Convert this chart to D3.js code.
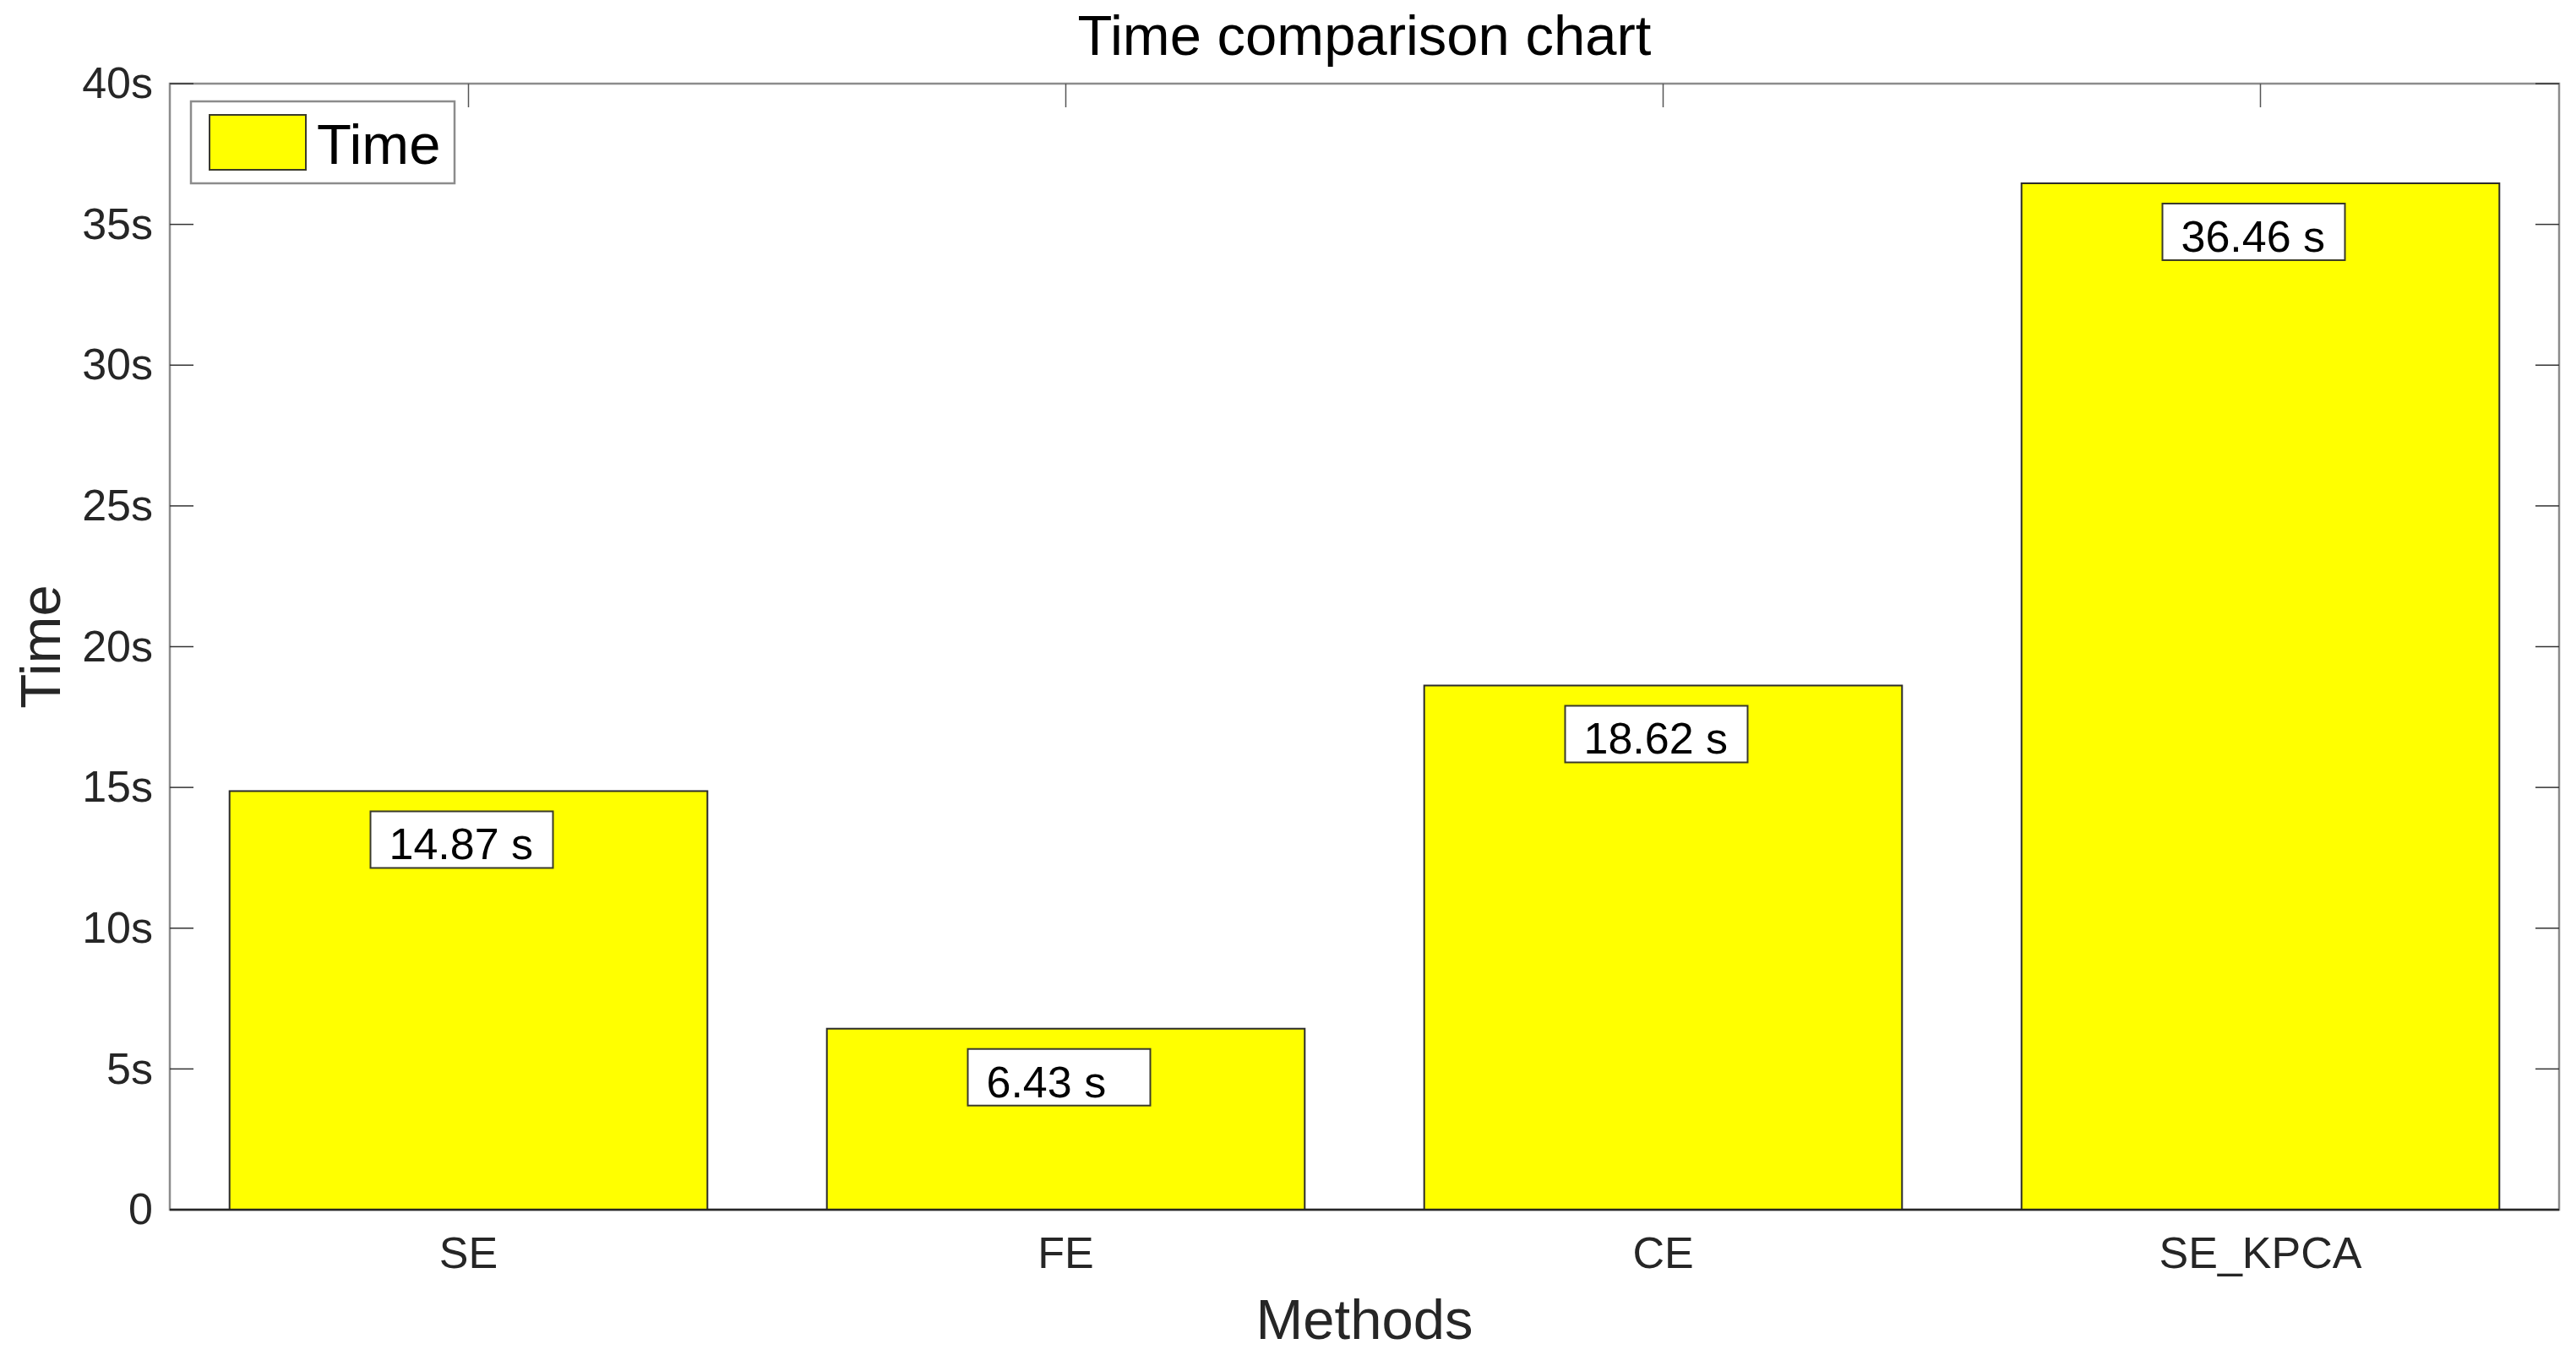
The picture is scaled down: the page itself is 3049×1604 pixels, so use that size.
<!DOCTYPE html>
<html>
<head>
<meta charset="utf-8">
<script src="https://cdn.jsdelivr.net/npm/d3@7"></script>
<style>
  body { margin: 0; background: #fff; }
  text { font-family: "Liberation Sans", Arial, sans-serif; }
</style>
</head>
<body>
<svg id="chart" width="3049" height="1604"></svg>
<script>
// donnees
let methodes = ['SE', 'FE', 'CE', 'SE_KPCA']
let temps = [14.87, 6.43, 18.62, 36.46]
let etiquettes = ['14.87 s', '6.43 s', '18.62 s', '36.46 s']
let ticksY = [0, 5, 10, 15, 20, 25, 30, 35, 40]
let ticksYLabels = ['0', '5s', '10s', '15s', '20s', '25s', '30s', '35s', '40s']

let svg = d3.select('#chart')

// zone du graphique
let gauche = 201, droite = 3029, haut = 99, bas = 1432

let x = d3.scaleBand()
    .domain(methodes)
    .range([gauche, droite])
    .paddingInner(0.2)
    .paddingOuter(0.1)

let xCentre = d => x(d) + x.bandwidth() / 2

let y = d3.scaleLinear()
    .domain([0, 40])
    .range([bas, haut])

// cadre gris
svg.append('rect')
   .attr('x', gauche).attr('y', haut)
   .attr('width', droite - gauche).attr('height', bas - haut)
   .attr('fill', 'none')
   .attr('stroke', '#8c8c8c')
   .attr('stroke-width', 2.5)

// graduations Y (gauche et droite)
let axeY = d3.axisLeft(y).tickValues(ticksY).tickFormat((d, i) => ticksYLabels[i]).tickSize(0).tickPadding(20)
let gY = svg.append('g').attr('transform', `translate(${gauche},0)`).call(axeY)
gY.select('.domain').remove()
gY.selectAll('text')
  .attr('font-size', 52)
  .attr('fill', '#262626')

svg.selectAll('.tickG')
   .data(ticksY)
   .enter()
   .append('line')
   .attr('x1', gauche).attr('x2', gauche + 28)
   .attr('y1', d => y(d)).attr('y2', d => y(d))
   .attr('stroke', '#333').attr('stroke-width', 1.5)

svg.selectAll('.tickD')
   .data(ticksY)
   .enter()
   .append('line')
   .attr('x1', droite - 28).attr('x2', droite)
   .attr('y1', d => y(d)).attr('y2', d => y(d))
   .attr('stroke', '#333').attr('stroke-width', 1.5)

// graduations du haut
svg.selectAll('.tickH')
   .data(methodes)
   .enter()
   .append('line')
   .attr('x1', xCentre).attr('x2', xCentre)
   .attr('y1', haut).attr('y2', haut + 28)
   .attr('stroke', '#555').attr('stroke-width', 1.5)

// barres
svg.selectAll('.barre')
   .data(methodes)
   .enter()
   .append('rect')
   .attr('x', d => x(d))
   .attr('y', (d, i) => y(temps[i]))
   .attr('width', x.bandwidth())
   .attr('height', (d, i) => y(0) - y(temps[i]))
   .attr('fill', '#ffff00')
   .attr('stroke', '#2b2b2b')
   .attr('stroke-width', 2)

// ligne de base
svg.append('line')
   .attr('x1', gauche).attr('x2', droite)
   .attr('y1', bas).attr('y2', bas)
   .attr('stroke', '#262626').attr('stroke-width', 2.5)

// etiquettes des categories
let axeX = d3.axisBottom(x).tickSize(0).tickPadding(32)
let gX = svg.append('g').attr('transform', `translate(0,${bas})`).call(axeX)
gX.select('.domain').remove()
gX.selectAll('text')
  .attr('font-size', 52)
  .attr('fill', '#262626')

// boites des valeurs
let boites = svg.selectAll('.boite')
   .data(methodes)
   .enter()
   .append('g')
   .attr('transform', (d, i) => `translate(${xCentre(d) - 116},${y(temps[i]) + 24})`)

boites.append('rect')
   .attr('width', 216).attr('height', 67)
   .attr('fill', '#fff')
   .attr('stroke', '#3a3a2a').attr('stroke-width', 2)

boites.append('text')
   .attr('x', 22).attr('y', 57)
   .attr('font-size', 52)
   .attr('fill', '#000')
   .text((d, i) => etiquettes[i])

// legende
let legende = svg.append('g').attr('transform', 'translate(226,120)')
legende.append('rect')
   .attr('width', 312).attr('height', 97)
   .attr('fill', '#fff')
   .attr('stroke', '#8c8c8c').attr('stroke-width', 2.5)
legende.append('rect')
   .attr('x', 22).attr('y', 16)
   .attr('width', 114).attr('height', 65)
   .attr('fill', '#ffff00')
   .attr('stroke', '#3a3a2a').attr('stroke-width', 2)
legende.append('text')
   .attr('x', 149).attr('y', 74)
   .attr('font-size', 67)
   .text('Time')

// titre et axes
svg.append('text')
   .attr('x', (gauche + droite) / 2).attr('y', 65)
   .attr('text-anchor', 'middle')
   .attr('font-size', 67)
   .text('Time comparison chart')

svg.append('text')
   .attr('x', (gauche + droite) / 2).attr('y', 1585)
   .attr('text-anchor', 'middle')
   .attr('font-size', 67)
   .attr('fill', '#262626')
   .text('Methods')

svg.append('text')
   .attr('transform', `translate(71,${(haut + bas) / 2}) rotate(-90)`)
   .attr('text-anchor', 'middle')
   .attr('font-size', 67)
   .attr('fill', '#262626')
   .text('Time')
</script>
</body>
</html>
